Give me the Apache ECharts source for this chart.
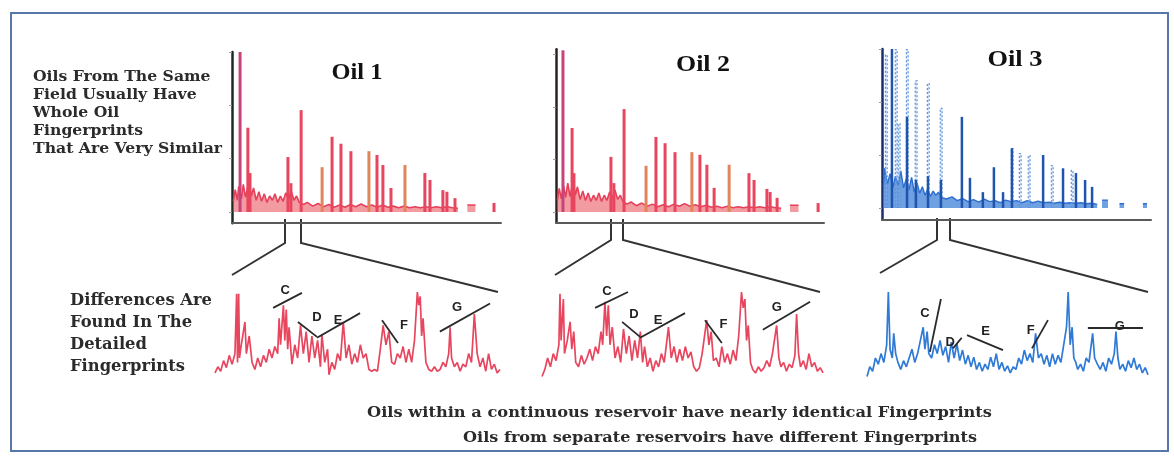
<!DOCTYPE html>
<html>
<head>
<meta charset="utf-8">
<script src="https://cdn.jsdelivr.net/npm/echarts@6.0.0/dist/echarts.min.js"></script>
<style>
html,body{margin:0;padding:0;background:#fff;}
#chart{width:1174px;height:456px;}
</style>
</head>
<body>
<div id="chart"></div>
<script>
// ---------- DATA ----------
// Whole-oil chromatograms: [retention (0-100), response]
const oil1Peaks = [[3.0,300],[5.9,158],[6.7,73],[20.8,103],[21.9,54],[25.7,191],[33.5,84],[37.2,141],[40.5,128],[44.2,114],[50.9,114],[53.9,107],[56.1,88],[59.1,45],[64.3,88],[71.7,73],[73.6,60],[78.4,41],[79.9,38],[82.9,26],[97.4,17]];
const oil1Baseline = [[0.5,20],[1.2,42],[2,22],[2.5,48],[3.5,25],[4.2,52],[5,28],[6.2,55],[7.2,30],[8,45],[9,22],[10,38],[11,20],[12,34],[13,18],[14,30],[15,22],[16,34],[17,18],[18,30],[19,20],[20,36],[21,24],[22,40],[23,22],[24,30],[25,18],[26.5,14],[28,18],[30,11],[32,16],[34,10],[36,14],[38,9],[40,13],[42,9],[44,14],[46,10],[48,15],[50,10],[52,13],[54,9],[56,13],[58,9],[60,11],[62,8],[64,11],[66,8],[68,10],[70,8],[72,10],[74,8],[76,10],[78,8],[80,10],[82,8],[84,7],[85,'-'],[87.5,13],[90.5,13]];

const oil2Peaks = [[2.6,308],[6.0,160],[6.7,74],[20.5,105],[21.6,55],[25.4,196],[33.6,88],[37.3,143],[40.7,131],[44.4,114],[50.7,114],[53.7,109],[56.3,90],[59.0,46],[64.6,90],[72.0,74],[73.9,61],[78.7,44],[79.9,38],[82.5,27],[97.8,17]];
const oil2Baseline = [[0.5,22],[1.2,45],[2,25],[2.8,50],[3.6,28],[4.4,55],[5.2,30],[6.4,58],[7.2,32],[8,48],[9,24],[10,40],[11,22],[12,36],[13,20],[14,32],[15,22],[16,36],[17,20],[18,32],[19,22],[20,38],[21,26],[22,42],[23,24],[24,32],[25,20],[26.5,15],[28,19],[30,12],[32,17],[34,11],[36,15],[38,10],[40,14],[42,10],[44,15],[46,11],[48,16],[50,11],[52,14],[54,10],[56,13],[58,9],[60,11],[62,8],[64,11],[66,8],[68,10],[70,8],[72,10],[74,8],[76,10],[78,8],[80,10],[82,8],[84,7],[85,'-'],[87.3,13],[90.5,13]];

const oil3SolidPeaks = [[3.7,300],[9.3,172],[12.6,53],[17.1,60],[21.9,53],[29.7,172],[32.7,57],[37.5,30],[41.6,77],[45.0,30],[48.3,113],[59.9,100],[67.3,75],[72.1,66],[75.5,53],[78.1,40]];
const oil3DottedPeaks = [[1.5,290],[5.2,300],[6.3,160],[9.3,300],[12.6,241],[17.1,236],[21.9,189],[48.3,113],[51.3,104],[54.6,100],[63.2,81],[70.6,72]];
const oil3Baseline = [[0.5,40],[1,75],[2,45],[3,65],[4,38],[5,60],[6,42],[7,70],[8,38],[9,55],[10,34],[11,58],[12,30],[13,48],[14,28],[15,40],[16,24],[17,36],[18,22],[19,32],[20,24],[21,30],[22,20],[24,17],[26,21],[28,14],[30,18],[32,12],[34,16],[36,11],[38,17],[40,12],[42,14],[44,10],[46,15],[48,12],[50,14],[52,10],[54,14],[56,10],[58,13],[60,10],[62,11],[64,9],[66,11],[68,9],[70,10],[72,9],[74,10],[76,8],[78,9],[80,7],[81,'-'],[81.8,15],[84,15],[85,'-'],[88.3,8],[90,8],[91,'-'],[97,8],[98.5,8]];

// Detailed fingerprints: [retention (0-100), relative response]
const detail1 = [[0,8],[1,15],[2,10],[3,22],[4,14],[5,28],[6,18],[7,30],[7.6,98],[7.9,20],[8.3,98],[8.6,25],[9,35],[10.5,66],[11,30],[12,50],[13,20],[14,12],[15,25],[16,15],[17,28],[18,20],[19,35],[20,25],[21,38],[22,30],[22.5,70],[23,40],[24,85],[24.5,45],[25,80],[25.5,35],[26,60],[27,18],[28,40],[29,25],[30,62],[31,30],[32,55],[33,20],[34,50],[35,25],[36,45],[37,15],[37.5,52],[38.5,20],[39.5,35],[40,6],[41,20],[42,12],[43,30],[44,22],[45,66],[46,25],[47,40],[48,18],[49,30],[50,20],[51,40],[52,25],[53,30],[54,12],[55,10],[56,12],[57,10],[58,35],[59,62],[60,40],[61,55],[62,20],[63,18],[64,30],[65,25],[66,38],[67,20],[68,35],[69,20],[70,45],[71,100],[71.5,85],[72,95],[72.5,50],[73,70],[74,20],[75,12],[76,10],[77,15],[78,10],[79,12],[80,20],[81,15],[82,30],[82.5,60],[83,25],[84,15],[85,20],[86,10],[87,18],[88,15],[89,30],[90,20],[91,75],[92,30],[93,15],[94,25],[95,10],[96,30],[97,12],[98,18],[99,8],[100,12]];
const detail2 = [[0,4],[1,12],[2,25],[3,15],[4,30],[5,22],[6,40],[6.4,98],[6.8,45],[7.6,92],[8,30],[9,45],[10,66],[10.6,35],[11.3,55],[12,20],[13,15],[14,28],[15,18],[16,25],[17,35],[18,22],[19,38],[20,30],[21,55],[21.6,40],[22.4,89],[23,50],[23.6,85],[24.2,40],[25,60],[26,25],[27,38],[28,20],[29,58],[30,30],[31,50],[32,22],[33,45],[34,25],[35,55],[35.8,20],[36.5,38],[37.5,15],[38.5,25],[39.5,10],[40.5,22],[41.5,15],[42.5,30],[43.5,20],[45,60],[46,25],[47,38],[48,20],[49,35],[50,22],[51,38],[52,25],[53,32],[54,15],[55,10],[56,14],[57,30],[58.6,68],[59.4,40],[60.2,55],[61,22],[62,25],[63,15],[64,38],[65,20],[66,30],[67,18],[68,34],[69,22],[70,50],[71,100],[71.6,82],[72.2,92],[72.8,45],[73.4,62],[74.2,20],[75,12],[76,8],[77,15],[78,10],[79,14],[80,22],[81,15],[82,30],[83.5,62],[84.3,25],[85,15],[86,20],[87,10],[88,18],[89,14],[90,28],[90.6,75],[91.3,30],[92,15],[93,22],[94,12],[95,30],[96,15],[97,20],[98,10],[99,14],[100,8]];
const detail3 = [[0,4],[1,15],[2,10],[3,25],[4,18],[5,30],[6,20],[7,40],[7.6,100],[8.2,35],[9,25],[9.5,53],[10.2,30],[11,20],[12,12],[13,22],[14,15],[15,25],[16,35],[17,20],[18,30],[19,45],[20,60],[20.6,35],[21.4,55],[22,30],[23,25],[24,40],[25,30],[26,45],[27,28],[28,38],[29,20],[30,43],[31,25],[32,41],[33,22],[34,34],[35,18],[36,28],[37,15],[38,26],[39,12],[40,20],[41,10],[42,18],[43,12],[44,26],[45,15],[46,30],[47,12],[48,20],[49,10],[50,16],[51,8],[52,15],[53,12],[54,25],[55,18],[56,34],[57,22],[58,30],[59,20],[60,53],[61,25],[62,30],[63,18],[64,28],[65,15],[66,30],[67,18],[68,28],[69,20],[70,40],[71,60],[71.6,100],[72.3,40],[73,60],[73.6,25],[74.3,20],[75,12],[76,18],[77,10],[78,25],[79,20],[80.3,53],[81,25],[82,18],[83,12],[84,20],[85,10],[86,25],[87,18],[88,30],[88.6,55],[89.3,25],[90,12],[91,18],[92,10],[93,22],[94,14],[95,25],[96,12],[97,18],[98,8],[99,14],[100,6]];

// Peak annotations: [label, x1, y1, x2, y2, labelX, labelY]
const marks1 = [['C',20.4,82,30.5,99,24.6,102],['D',29.1,66,35.8,49,35.8,71],['E',35.8,48,50.9,76,43.2,68],['F',58.6,68,64.2,42,66.3,62],['G',78.9,55,96.5,87,84.9,83]];
const marks2 = [['C',18.9,82,30.6,100,23.1,101],['D',28.5,66,34.9,49,32.7,74],['E',34.9,48,50.9,76,41.3,68],['F',58.0,68,64.0,42,64.6,63],['G',78.6,57,95.4,89,83.6,82]];
const marks3 = [['C',22.4,32,26.3,92,20.6,76],['D',30.6,36,33.7,48,29.6,43],['E',35.6,51,48.4,34,42.2,55],['F',58.7,36,64.4,68,58.3,56],['G',78.6,59,98.2,59,90.0,61]];

const titles = ['Oil 1','Oil 2','Oil 3'];
const leftText1 = ['Oils From The Same','Field Usually Have','Whole Oil','Fingerprints','That Are Very Similar'];
const leftText2 = ['Differences Are','Found In The','Detailed','Fingerprints'];
const bottomText = ['Oils within a continuous reservoir have nearly identical Fingerprints','Oils from separate reservoirs have different Fingerprints'];
const tickValues = [0,100,200,300];

// ---------- HELPERS ----------
const mctx = document.createElement('canvas').getContext('2d');
function measure(str, font){ mctx.font = font; return mctx.measureText(str).width; }
function textEl(str, x, y, font, scale, fill, align){
  const w = measure(str, font);
  const s = scale || 1;
  const ox = align === 'center' ? x - (w*s)/2 : x;
  return {type:'text', x: ox, y: y, scaleX: s, silent:true,
    style:{text:str, font:font, fill:fill||'#2b2b2b', align:'left', verticalAlign:'middle'}};
}
function topX(i){return {gridIndex:i,type:'value',min:0,max:100,axisLine:{show:true,onZero:false,lineStyle:{color:'#5a5a5a',width:2}},axisTick:{show:false},axisLabel:{show:false},splitLine:{show:false}};}
function topY(i,min,max,col){return {gridIndex:i,type:'value',min:min,max:max,axisLine:{show:true,onZero:false,lineStyle:{color:col,width:2.5}},axisTick:{show:true,length:3,customValues:tickValues,lineStyle:{color:'#9a9a9a',width:1}},axisLabel:{show:false},splitLine:{show:false}};}
function detX(i){return {gridIndex:i,type:'value',min:0,max:100,show:false};}
function detY(i){return {gridIndex:i,type:'value',min:-5,max:110,show:false};}
function annot(marks){
  return {
    markLine:{silent:true,symbol:['none','none'],label:{show:false},lineStyle:{color:'#2a2a2a',width:1.8,type:'solid'},
      data: marks.map(m=>[{coord:[m[1],m[2]]},{coord:[m[3],m[4]]}])},
    markPoint:{silent:true,symbol:'rect',symbolSize:1,itemStyle:{color:'rgba(0,0,0,0)'},
      label:{show:true,position:'inside',formatter:p=>p.name,color:'#222',fontFamily:'Liberation Sans',fontWeight:'bold',fontSize:13},
      data: marks.map(m=>({name:m[0],coord:[m[5],m[6]]}))}
  };
}
const redCol = p => p.dataIndex === 0 ? '#c8437a' : ([6,10,14].includes(p.dataIndex) ? '#e0845c' : '#e8455e');

const graphic = [
  {type:'rect',shape:{x:11,y:13,width:1157,height:438},style:{fill:'none',stroke:'#5677a8',lineWidth:2},silent:true},
  // zoom connectors
  {type:'polyline',shape:{points:[[232,275],[285,243],[285,219]]},style:{stroke:'#333',lineWidth:2,fill:'none'},silent:true},
  {type:'polyline',shape:{points:[[301,219],[301,243],[498,292]]},style:{stroke:'#333',lineWidth:2,fill:'none'},silent:true},
  {type:'polyline',shape:{points:[[555,275],[611,240],[611,219]]},style:{stroke:'#333',lineWidth:2,fill:'none'},silent:true},
  {type:'polyline',shape:{points:[[623,219],[623,240],[820,292]]},style:{stroke:'#333',lineWidth:2,fill:'none'},silent:true},
  {type:'polyline',shape:{points:[[880,273],[937,240],[937,218]]},style:{stroke:'#333',lineWidth:2,fill:'none'},silent:true},
  {type:'polyline',shape:{points:[[950,218],[950,240],[1148,292]]},style:{stroke:'#333',lineWidth:2,fill:'none'},silent:true},
];
const titleFont = 'bold 24px "Liberation Serif"';
[[357,73,51],[703,65,54],[1015,60,55]].forEach((p,i)=>{
  graphic.push(textEl(titles[i],p[0],p[1],titleFont,p[2]/measure(titles[i],titleFont),'#111','center'));
});
const f1 = 'bold 14px "DejaVu Serif"';
const s1 = 189/measure(leftText1[4], f1);
leftText1.forEach((t,i)=>graphic.push(textEl(t,33,77+i*18,f1,s1)));
const f2 = 'bold 16px "DejaVu Serif"';
const s2 = 142/measure(leftText2[0], f2);
leftText2.forEach((t,i)=>graphic.push(textEl(t,70,301+i*22,f2,s2)));
const f3 = 'bold 14px "DejaVu Serif"';
graphic.push(textEl(bottomText[0],367,413,f3,625/measure(bottomText[0],f3)));
graphic.push(textEl(bottomText[1],463,438,f3,514/measure(bottomText[1],f3)));

const option = {
  animation:false,
  backgroundColor:'#ffffff',
  grid:[
    {left:232,top:52,width:269,height:171.2},
    {left:556,top:49.25,width:268,height:173.25},
    {left:882,top:49,width:269,height:170.7},
    {left:215,top:283.2,width:285,height:101.2},
    {left:542,top:283.2,width:281,height:101.2},
    {left:867,top:283.2,width:281,height:101.2}
  ],
  xAxis:[topX(0),topX(1),topX(2),detX(3),detX(4),detX(5)],
  yAxis:[topY(0,-21,300,'#1e2a28'),topY(1,-20,310,'#2a2226'),topY(2,-22,300,'#1a2f6e'),detY(3),detY(4),detY(5)],
  graphic: graphic,
  series:[
    {type:'line',xAxisIndex:0,yAxisIndex:0,data:oil1Baseline,symbol:'none',connectNulls:false,lineStyle:{color:'#e6405a',width:1.6},areaStyle:{color:'#ea5a62',opacity:0.6},z:2},
    {type:'bar',xAxisIndex:0,yAxisIndex:0,data:oil1Peaks,barWidth:3,itemStyle:{color:redCol},z:3},
    {type:'line',xAxisIndex:1,yAxisIndex:1,data:oil2Baseline,symbol:'none',connectNulls:false,lineStyle:{color:'#e6405a',width:1.6},areaStyle:{color:'#ea5a62',opacity:0.6},z:2},
    {type:'bar',xAxisIndex:1,yAxisIndex:1,data:oil2Peaks,barWidth:3,itemStyle:{color:redCol},z:3},
    {type:'line',xAxisIndex:2,yAxisIndex:2,data:oil3Baseline,symbol:'none',connectNulls:false,lineStyle:{color:'#2d6fd0',width:1.4},areaStyle:{color:'#3f80d8',opacity:0.75},z:2},
    {type:'bar',xAxisIndex:2,yAxisIndex:2,data:oil3DottedPeaks,barWidth:3,barGap:'-100%',itemStyle:{color:'rgba(140,180,235,0.25)',borderColor:'#5d93dc',borderWidth:1.2,borderType:[2,2]},z:3},
    {type:'bar',xAxisIndex:2,yAxisIndex:2,data:oil3SolidPeaks,barWidth:2.5,barGap:'-100%',itemStyle:{color:'#1f55ad'},z:4},
    Object.assign({type:'line',xAxisIndex:3,yAxisIndex:3,data:detail1,symbol:'none',lineStyle:{color:'#e8465e',width:1.7},z:3},annot(marks1)),
    Object.assign({type:'line',xAxisIndex:4,yAxisIndex:4,data:detail2,symbol:'none',lineStyle:{color:'#e8465e',width:1.7},z:3},annot(marks2)),
    Object.assign({type:'line',xAxisIndex:5,yAxisIndex:5,data:detail3,symbol:'none',lineStyle:{color:'#2f7ad6',width:1.7},z:3},annot(marks3))
  ]
};
const chart = echarts.init(document.getElementById('chart'),null,{renderer:'canvas'});
chart.setOption(option);
</script>
</body>
</html>
